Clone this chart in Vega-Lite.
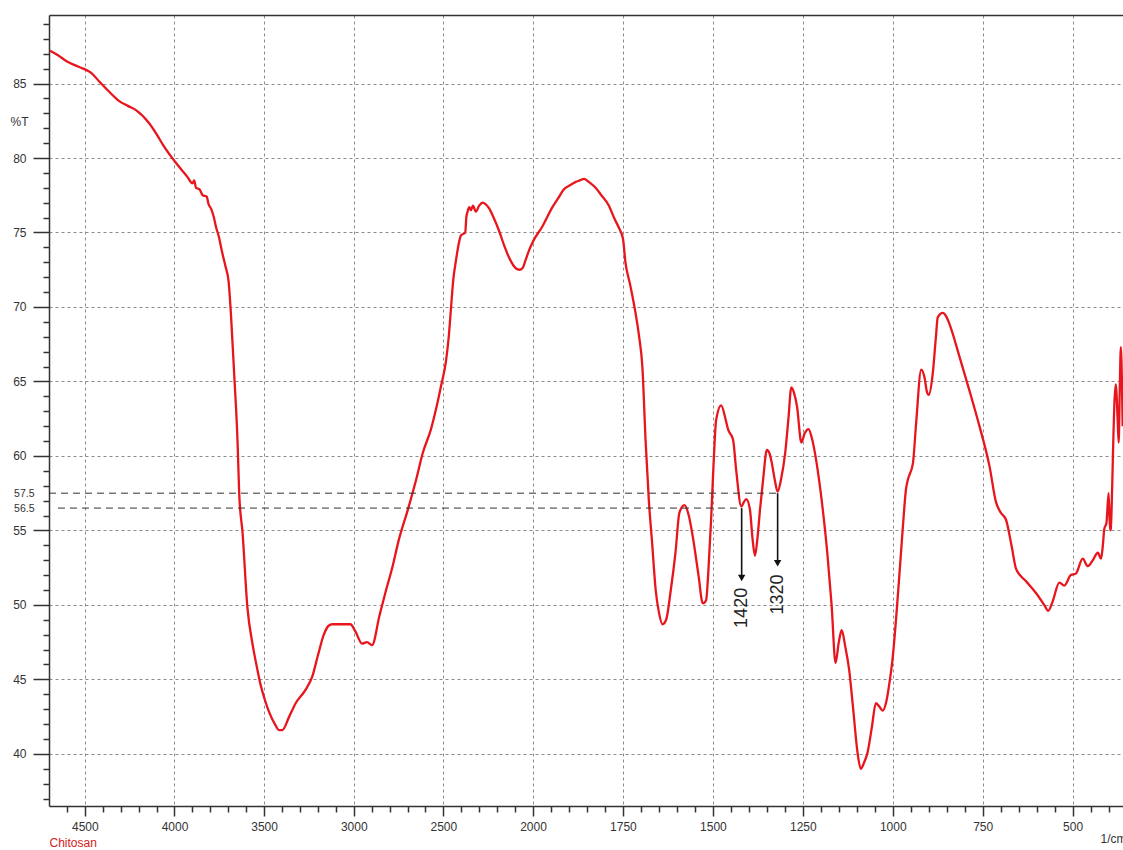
{
  "$schema": "https://vega.github.io/schema/vega-lite/v6.json",
  "width": 1074,
  "height": 791,
  "autosize": {"type": "none"},
  "padding": {"left": 49, "top": 15, "right": 0, "bottom": 44},
  "background": "white",
  "config": {
    "view": {"stroke": null},
    "font": "Liberation Sans",
    "axis": {"labelFont": "Liberation Sans", "titleFont": "Liberation Sans", "labelColor": "#333", "tickColor": "#333", "domainColor": "#333", "labelOverlap": false}
  },
  "datasets": {
    "spectrum": [
      {"wn": 4694, "T": 87.2}, {"wn": 4650, "T": 86.9}, {"wn": 4602, "T": 86.5}, {"wn": 4550, "T": 86.2},
      {"wn": 4509, "T": 86.0}, {"wn": 4463, "T": 85.7}, {"wn": 4417, "T": 85.1}, {"wn": 4360, "T": 84.4},
      {"wn": 4306, "T": 83.8}, {"wn": 4260, "T": 83.5}, {"wn": 4213, "T": 83.2}, {"wn": 4139, "T": 82.3},
      {"wn": 4100, "T": 81.6}, {"wn": 4065, "T": 80.9}, {"wn": 4000, "T": 79.8}, {"wn": 3960, "T": 79.2},
      {"wn": 3926, "T": 78.7}, {"wn": 3900, "T": 78.3}, {"wn": 3890, "T": 78.5}, {"wn": 3880, "T": 78.0},
      {"wn": 3860, "T": 77.9}, {"wn": 3843, "T": 77.5}, {"wn": 3820, "T": 77.4}, {"wn": 3810, "T": 76.9},
      {"wn": 3796, "T": 76.6}, {"wn": 3780, "T": 76.0}, {"wn": 3769, "T": 75.4}, {"wn": 3750, "T": 74.6},
      {"wn": 3740, "T": 74.0}, {"wn": 3731, "T": 73.5}, {"wn": 3715, "T": 72.7}, {"wn": 3698, "T": 71.7},
      {"wn": 3685, "T": 69.5}, {"wn": 3667, "T": 65.5}, {"wn": 3648, "T": 60.9}, {"wn": 3639, "T": 57.5},
      {"wn": 3620, "T": 54.8}, {"wn": 3593, "T": 49.8}, {"wn": 3565, "T": 47.4}, {"wn": 3540, "T": 45.8},
      {"wn": 3519, "T": 44.6}, {"wn": 3495, "T": 43.6}, {"wn": 3472, "T": 42.8}, {"wn": 3440, "T": 42.0},
      {"wn": 3417, "T": 41.6}, {"wn": 3398, "T": 41.6}, {"wn": 3360, "T": 42.5}, {"wn": 3324, "T": 43.4},
      {"wn": 3269, "T": 44.3}, {"wn": 3231, "T": 45.2}, {"wn": 3200, "T": 46.6}, {"wn": 3167, "T": 48.0},
      {"wn": 3140, "T": 48.6}, {"wn": 3120, "T": 48.7}, {"wn": 3019, "T": 48.7}, {"wn": 2990, "T": 48.2},
      {"wn": 2954, "T": 47.4}, {"wn": 2926, "T": 47.5}, {"wn": 2898, "T": 47.3}, {"wn": 2856, "T": 49.3},
      {"wn": 2824, "T": 50.8}, {"wn": 2781, "T": 52.7}, {"wn": 2750, "T": 54.3}, {"wn": 2698, "T": 56.4},
      {"wn": 2652, "T": 58.4}, {"wn": 2615, "T": 60.2}, {"wn": 2569, "T": 61.8}, {"wn": 2540, "T": 63.2},
      {"wn": 2513, "T": 64.7}, {"wn": 2485, "T": 66.4}, {"wn": 2470, "T": 68.0}, {"wn": 2457, "T": 70.0},
      {"wn": 2445, "T": 71.8}, {"wn": 2430, "T": 73.1}, {"wn": 2415, "T": 74.2}, {"wn": 2402, "T": 74.8},
      {"wn": 2378, "T": 75.0}, {"wn": 2372, "T": 76.0}, {"wn": 2365, "T": 76.4}, {"wn": 2355, "T": 76.7},
      {"wn": 2346, "T": 76.5}, {"wn": 2335, "T": 76.8}, {"wn": 2319, "T": 76.4}, {"wn": 2300, "T": 76.8},
      {"wn": 2281, "T": 77.0}, {"wn": 2265, "T": 76.9}, {"wn": 2244, "T": 76.6}, {"wn": 2220, "T": 76.0},
      {"wn": 2189, "T": 75.1}, {"wn": 2160, "T": 74.1}, {"wn": 2133, "T": 73.3}, {"wn": 2110, "T": 72.8},
      {"wn": 2096, "T": 72.6}, {"wn": 2075, "T": 72.5}, {"wn": 2059, "T": 72.6}, {"wn": 2040, "T": 73.2},
      {"wn": 2022, "T": 73.8}, {"wn": 2000, "T": 74.4}, {"wn": 1974, "T": 75.4}, {"wn": 1946, "T": 76.7},
      {"wn": 1930, "T": 77.3}, {"wn": 1914, "T": 77.9}, {"wn": 1895, "T": 78.2}, {"wn": 1881, "T": 78.4},
      {"wn": 1870, "T": 78.5}, {"wn": 1858, "T": 78.6}, {"wn": 1845, "T": 78.4}, {"wn": 1826, "T": 78.0},
      {"wn": 1810, "T": 77.5}, {"wn": 1789, "T": 76.8}, {"wn": 1775, "T": 76.0}, {"wn": 1761, "T": 75.3},
      {"wn": 1750, "T": 74.6}, {"wn": 1743, "T": 73.0}, {"wn": 1730, "T": 71.5}, {"wn": 1715, "T": 69.6},
      {"wn": 1705, "T": 68.0}, {"wn": 1696, "T": 66.0}, {"wn": 1687, "T": 61.0}, {"wn": 1678, "T": 57.0},
      {"wn": 1669, "T": 54.2}, {"wn": 1659, "T": 51.0}, {"wn": 1650, "T": 49.5}, {"wn": 1640, "T": 48.7},
      {"wn": 1630, "T": 49.0}, {"wn": 1617, "T": 51.0}, {"wn": 1604, "T": 53.5}, {"wn": 1593, "T": 56.2},
      {"wn": 1579, "T": 56.7}, {"wn": 1567, "T": 56.0}, {"wn": 1556, "T": 54.6}, {"wn": 1540, "T": 52.0},
      {"wn": 1528, "T": 50.1}, {"wn": 1519, "T": 50.3}, {"wn": 1512, "T": 52.5}, {"wn": 1505, "T": 55.7},
      {"wn": 1498, "T": 59.5}, {"wn": 1491, "T": 62.4}, {"wn": 1477, "T": 63.4}, {"wn": 1465, "T": 62.5},
      {"wn": 1458, "T": 61.8}, {"wn": 1444, "T": 61.1}, {"wn": 1435, "T": 59.0}, {"wn": 1421, "T": 56.6},
      {"wn": 1414, "T": 56.9}, {"wn": 1407, "T": 57.1}, {"wn": 1397, "T": 56.4}, {"wn": 1390, "T": 54.5},
      {"wn": 1383, "T": 53.3}, {"wn": 1376, "T": 54.5}, {"wn": 1369, "T": 56.4}, {"wn": 1360, "T": 58.5},
      {"wn": 1350, "T": 60.4}, {"wn": 1343, "T": 60.2}, {"wn": 1336, "T": 59.5}, {"wn": 1328, "T": 58.4},
      {"wn": 1320, "T": 57.6}, {"wn": 1310, "T": 58.5}, {"wn": 1299, "T": 60.2}, {"wn": 1290, "T": 62.5},
      {"wn": 1282, "T": 64.6}, {"wn": 1274, "T": 64.2}, {"wn": 1266, "T": 63.3}, {"wn": 1254, "T": 60.9},
      {"wn": 1245, "T": 61.5}, {"wn": 1234, "T": 61.8}, {"wn": 1225, "T": 61.2}, {"wn": 1206, "T": 58.6},
      {"wn": 1195, "T": 56.5}, {"wn": 1182, "T": 53.5}, {"wn": 1170, "T": 50.0}, {"wn": 1159, "T": 46.1},
      {"wn": 1150, "T": 47.5}, {"wn": 1142, "T": 48.3}, {"wn": 1132, "T": 47.2}, {"wn": 1121, "T": 45.6},
      {"wn": 1110, "T": 43.0}, {"wn": 1098, "T": 40.1}, {"wn": 1089, "T": 39.0}, {"wn": 1080, "T": 39.4},
      {"wn": 1070, "T": 40.1}, {"wn": 1058, "T": 41.8}, {"wn": 1047, "T": 43.4}, {"wn": 1038, "T": 43.2},
      {"wn": 1028, "T": 42.9}, {"wn": 1018, "T": 43.5}, {"wn": 1009, "T": 44.8}, {"wn": 1000, "T": 46.5},
      {"wn": 991, "T": 49.0}, {"wn": 981, "T": 52.2}, {"wn": 972, "T": 55.2}, {"wn": 963, "T": 57.8},
      {"wn": 958, "T": 58.4}, {"wn": 944, "T": 59.5}, {"wn": 935, "T": 62.2}, {"wn": 921, "T": 65.8},
      {"wn": 912, "T": 65.3}, {"wn": 905, "T": 64.3}, {"wn": 900, "T": 64.1}, {"wn": 889, "T": 65.5},
      {"wn": 880, "T": 68.0}, {"wn": 875, "T": 69.3}, {"wn": 861, "T": 69.6}, {"wn": 850, "T": 69.3},
      {"wn": 843, "T": 68.9}, {"wn": 815, "T": 66.7}, {"wn": 787, "T": 64.4}, {"wn": 759, "T": 62.0},
      {"wn": 731, "T": 59.3}, {"wn": 713, "T": 56.9}, {"wn": 700, "T": 56.2}, {"wn": 685, "T": 55.7},
      {"wn": 670, "T": 54.0}, {"wn": 657, "T": 52.4}, {"wn": 630, "T": 51.6}, {"wn": 602, "T": 50.8},
      {"wn": 579, "T": 50.0}, {"wn": 568, "T": 49.6}, {"wn": 556, "T": 50.2}, {"wn": 537, "T": 51.5},
      {"wn": 523, "T": 51.3}, {"wn": 505, "T": 52.0}, {"wn": 491, "T": 52.1}, {"wn": 472, "T": 53.1},
      {"wn": 458, "T": 52.6}, {"wn": 444, "T": 53.0}, {"wn": 430, "T": 53.5}, {"wn": 421, "T": 53.1},
      {"wn": 416, "T": 54.0}, {"wn": 412, "T": 55.1}, {"wn": 406, "T": 55.5}, {"wn": 400, "T": 57.5},
      {"wn": 396, "T": 55.0}, {"wn": 394, "T": 55.1}, {"wn": 390, "T": 58.0}, {"wn": 387, "T": 61.0},
      {"wn": 384, "T": 63.5}, {"wn": 380, "T": 64.8}, {"wn": 378, "T": 64.2}, {"wn": 375, "T": 62.5},
      {"wn": 372, "T": 60.9}, {"wn": 369, "T": 64.5}, {"wn": 366, "T": 67.3}, {"wn": 363, "T": 65.0},
      {"wn": 361, "T": 62.0}
    ],
    "refs": [
      {"wn": 4700, "wn2": 1320, "T": 57.5},
      {"wn": 4650, "wn2": 1420, "T": 56.5}
    ],
    "arrows": [
      {"wn": 1420, "T": 56.5, "Thead": 51.8, "Tlab": 49.8, "label": "1420"},
      {"wn": 1320, "T": 57.5, "Thead": 52.8, "Tlab": 50.7, "label": "1320"}
    ]
  },
  "layer": [
    {
      "data": {"name": "spectrum"},
      "mark": {"type": "line", "color": "#e8161c", "strokeWidth": 2.3, "interpolate": "monotone"},
      "encoding": {
        "x": {
          "field": "wn", "type": "quantitative",
          "scale": {"domain": [4700, 2000, 360], "range": [0, 484, 1074], "nice": false, "zero": false},
          "axis": {
            "orient": "bottom",
            "values": [4500, 4000, 3500, 3000, 2500, 2000, 1750, 1500, 1250, 1000, 750, 500],
            "format": "d", "grid": true, "gridDash": [3, 3], "gridColor": "#8c8c8c", "gridWidth": 1,
            "tickSize": 10, "tickWidth": 1.5, "domainWidth": 1.5,
            "labelPadding": 5, "labelFontSize": 12, "labelFlush": false,
            "title": "1/cm", "titleX": 1051, "titleY": 32, "titleAlign": "left", "titleBaseline": "middle",
            "titleFontWeight": "normal", "titleFontSize": 12, "titleColor": "#333"
          }
        },
        "y": {
          "field": "T", "type": "quantitative",
          "scale": {"domain": [36.5, 89.6], "nice": false, "zero": false},
          "axis": {
            "orient": "left",
            "values": [40, 45, 50, 55, 60, 65, 70, 75, 80, 85],
            "grid": true, "gridDash": [3, 3], "gridColor": "#8c8c8c", "gridWidth": 1,
            "tickSize": 16, "tickWidth": 1.5, "domainWidth": 1.5,
            "labelPadding": 7, "labelFontSize": 12,
            "title": "%T", "titleAngle": 0, "titleX": -30, "titleY": 106, "titleAlign": "center", "titleBaseline": "middle",
            "titleFontWeight": "normal", "titleFontSize": 12, "titleColor": "#333"
          }
        }
      }
    },
    {
      "data": {"name": "spectrum"},
      "mark": {"type": "point", "opacity": 0},
      "encoding": {
        "x": {
          "field": "wn", "type": "quantitative",
          "scale": {"domain": [4700, 2000, 360], "range": [0, 484, 1074], "nice": false, "zero": false},
          "axis": {
            "orient": "bottom",
            "values": [4600, 4400, 4300, 4200, 4100, 3900, 3800, 3700, 3600, 3400, 3300, 3200, 3100, 2900, 2800, 2700, 2600, 2400, 2300, 2200, 2100, 1950, 1900, 1850, 1800, 1700, 1650, 1600, 1550, 1450, 1400, 1350, 1300, 1200, 1150, 1100, 1050, 950, 900, 850, 800, 700, 650, 600, 550, 450, 400],
            "grid": false, "labels": false, "domain": false, "tickSize": 6, "tickWidth": 1.5,
            "title": "Chitosan", "titleX": 0, "titleY": 36, "titleAlign": "left", "titleBaseline": "middle",
            "titleColor": "#d42020", "titleFontWeight": "normal", "titleFontSize": 12
          }
        },
        "y": {
          "field": "T", "type": "quantitative",
          "scale": {"domain": [36.5, 89.6], "nice": false, "zero": false},
          "axis": {
            "orient": "left",
            "values": [37, 38, 39, 41, 42, 43, 44, 46, 47, 48, 49, 51, 52, 53, 54, 56, 57, 58, 59, 61, 62, 63, 64, 66, 67, 68, 69, 71, 72, 73, 74, 76, 77, 78, 79, 81, 82, 83, 84, 86, 87, 88, 89],
            "grid": false, "labels": false, "domain": false, "tickSize": 6, "tickWidth": 1.5, "title": null
          }
        }
      }
    },
    {
      "data": {"name": "refs"},
      "mark": {"type": "point", "opacity": 0},
      "encoding": {
        "x": {
          "field": "wn", "type": "quantitative",
          "scale": {"domain": [4700, 2000, 360], "range": [0, 484, 1074], "nice": false, "zero": false},
          "axis": {"orient": "top", "labels": false, "ticks": false, "grid": false, "domain": true, "domainWidth": 1.5, "title": null}
        },
        "y": {
          "field": "T", "type": "quantitative",
          "scale": {"domain": [36.5, 89.6], "nice": false, "zero": false},
          "axis": {"orient": "left", "values": [56.5, 57.5], "format": ".1f", "ticks": false, "tickSize": 0, "domain": false, "grid": false, "labelPadding": 15, "labelFontSize": 10.5, "title": null}
        }
      }
    },
    {
      "data": {"name": "refs"},
      "mark": {"type": "rule", "color": "#333", "strokeWidth": 1, "strokeDash": [7, 5]},
      "encoding": {
        "x": {"field": "wn", "type": "quantitative", "scale": {"domain": [4700, 2000, 360], "range": [0, 484, 1074], "nice": false, "zero": false}, "axis": null},
        "x2": {"field": "wn2"},
        "y": {"field": "T", "type": "quantitative", "scale": {"domain": [36.5, 89.6], "nice": false, "zero": false}, "axis": null}
      }
    },
    {
      "data": {"name": "arrows"},
      "mark": {"type": "rule", "color": "#111", "strokeWidth": 1.6},
      "encoding": {
        "x": {"field": "wn", "type": "quantitative", "scale": {"domain": [4700, 2000, 360], "range": [0, 484, 1074], "nice": false, "zero": false}, "axis": null},
        "y": {"field": "T", "type": "quantitative", "scale": {"domain": [36.5, 89.6], "nice": false, "zero": false}, "axis": null},
        "y2": {"field": "Thead"}
      }
    },
    {
      "data": {"name": "arrows"},
      "mark": {"type": "point", "shape": "triangle-down", "filled": true, "color": "#111", "opacity": 1, "size": 55},
      "encoding": {
        "x": {"field": "wn", "type": "quantitative", "scale": {"domain": [4700, 2000, 360], "range": [0, 484, 1074], "nice": false, "zero": false}, "axis": null},
        "y": {"field": "Thead", "type": "quantitative", "scale": {"domain": [36.5, 89.6], "nice": false, "zero": false}, "axis": null}
      }
    },
    {
      "data": {"name": "arrows"},
      "mark": {"type": "text", "angle": 270, "align": "center", "baseline": "middle", "fontSize": 18, "font": "Liberation Sans", "color": "#222"},
      "encoding": {
        "x": {"field": "wn", "type": "quantitative", "scale": {"domain": [4700, 2000, 360], "range": [0, 484, 1074], "nice": false, "zero": false}, "axis": null},
        "y": {"field": "Tlab", "type": "quantitative", "scale": {"domain": [36.5, 89.6], "nice": false, "zero": false}, "axis": null},
        "text": {"field": "label"}
      }
    }
  ],
  "resolve": {"axis": {"x": "independent", "y": "independent"}}
}
